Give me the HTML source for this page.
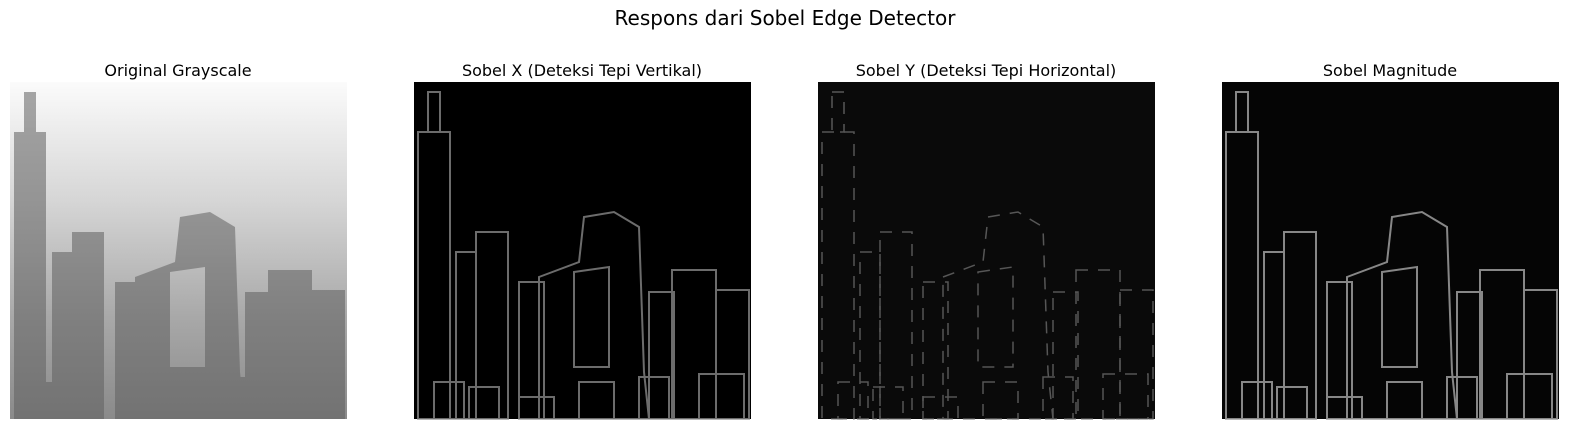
<!DOCTYPE html>
<html>
<head>
<meta charset="utf-8">
<style>
  html, body { margin: 0; padding: 0; background: #fff; }
  body { width: 1570px; height: 430px; overflow: hidden; font-family: "Liberation Sans", "DejaVu Sans", sans-serif; }
  svg text { font-family: "DejaVu Sans", "Liberation Sans", sans-serif; }
</style>
</head>
<body>
<svg width="1570" height="430" viewBox="0 0 1570 430">
  <defs>
    <linearGradient id="sky" x1="0" y1="0" x2="0" y2="1">
      <stop offset="0" stop-color="#fbfbfb"/>
      <stop offset="0.35" stop-color="#d6d6d6"/>
      <stop offset="0.7" stop-color="#a8a8a8"/>
      <stop offset="1" stop-color="#8a8a8a"/>
    </linearGradient>
    <g id="bld">
      <rect x="4" y="50" width="32" height="287"/>
      <rect x="14" y="10" width="12" height="40"/>
      <rect x="42" y="170" width="20" height="167"/>
      <rect x="62" y="150" width="32" height="187"/>
      <rect x="105" y="200" width="25" height="137"/>
      <path d="M125 195 L165 180 L170 135 L200 130 L225 145 L230 290 L235 337 L125 337 Z M160 190 L195 185 L195 285 L160 285 Z" fill-rule="evenodd"/>
      <rect x="235" y="210" width="25" height="127"/>
      <rect x="258" y="188" width="44" height="149"/>
      <rect x="302" y="208" width="33" height="129"/>
      <rect x="20" y="300" width="30" height="37"/>
      <rect x="55" y="305" width="30" height="32"/>
      <rect x="105" y="315" width="35" height="22"/>
      <rect x="165" y="300" width="35" height="37"/>
      <rect x="225" y="295" width="30" height="42"/>
      <rect x="285" y="292" width="45" height="45"/>
    </g>
  </defs>

  <text x="785" y="25" font-size="20" text-anchor="middle" fill="#000">Respons dari Sobel Edge Detector</text>

  <g>
    <text x="178" y="76" font-size="16" text-anchor="middle">Original Grayscale</text>
    <g transform="translate(10,82)">
      <rect width="337" height="337" fill="url(#sky)"/>
      <use href="#bld" fill="#606060" opacity="0.55"/>
    </g>
  </g>

  <g>
    <text x="582" y="76" font-size="16" text-anchor="middle">Sobel X (Deteksi Tepi Vertikal)</text>
    <g transform="translate(414,82)">
      <rect width="337" height="337" fill="#000"/>
      <use href="#bld" fill="none" stroke="#9a9a9a" stroke-width="2" opacity="0.7"/>
    </g>
  </g>

  <g>
    <text x="986" y="76" font-size="16" text-anchor="middle">Sobel Y (Deteksi Tepi Horizontal)</text>
    <g transform="translate(818,82)">
      <rect width="337" height="337" fill="#0a0a0a"/>
      <use href="#bld" fill="none" stroke="#777" stroke-width="1.5" stroke-dasharray="12 10" opacity="0.7"/>
    </g>
  </g>

  <g>
    <text x="1390" y="76" font-size="16" text-anchor="middle">Sobel Magnitude</text>
    <g transform="translate(1222,82)">
      <rect width="337" height="337" fill="#050505"/>
      <use href="#bld" fill="none" stroke="#a8a8a8" stroke-width="2" opacity="0.8"/>
    </g>
  </g>
</svg>
</body>
</html>
